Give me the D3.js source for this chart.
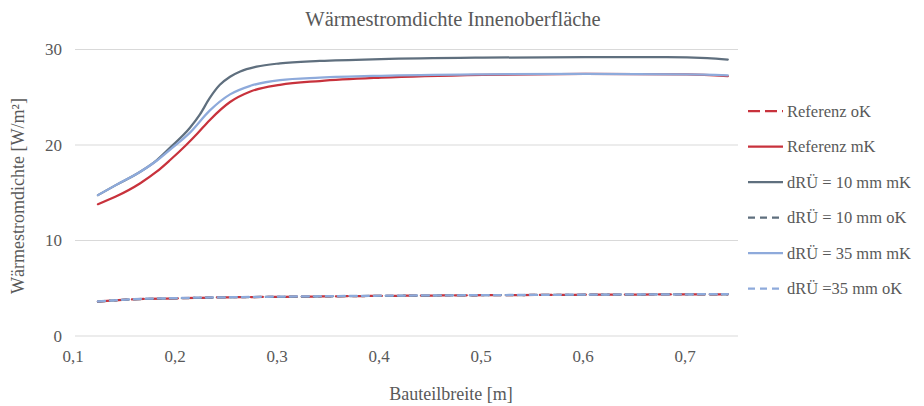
<!DOCTYPE html>
<html>
<head>
<meta charset="utf-8">
<script src="https://cdn.jsdelivr.net/npm/d3@7"></script>
<style>
  html, body { margin: 0; padding: 0; background: #fff; }
  svg { display: block; }
  svg text { font-family: "Liberation Serif", "DejaVu Serif", serif; }
</style>
</head>
<body>
<svg id="chart" width="924" height="406"></svg>
<script>
// Wärmestromdichte an der Innenoberfläche über die Bauteilbreite
const xTicks = [0.1, 0.2, 0.3, 0.4, 0.5, 0.6, 0.7];
const yTicks = [0, 10, 20, 30];

// Referenz mit Kleber (mK)
const refMK = [
  [0.1225, 13.8], [0.14, 14.6], [0.164, 16.0], [0.18, 17.2], [0.193, 18.4],
  [0.209, 20.0], [0.22, 21.2], [0.232, 22.6], [0.252, 24.5], [0.272, 25.6],
  [0.301, 26.3], [0.34, 26.7], [0.4, 27.05], [0.5, 27.35], [0.6, 27.45],
  [0.7, 27.4], [0.74, 27.2]
];
// dRÜ = 10 mm mit Kleber
const d10MK = [
  [0.1225, 14.75], [0.14, 15.8], [0.164, 17.2], [0.18, 18.4], [0.193, 19.7],
  [0.2127, 21.8], [0.2225, 23.2], [0.232, 24.9], [0.242, 26.3], [0.252, 27.15],
  [0.262, 27.7], [0.278, 28.2], [0.301, 28.55], [0.34, 28.8], [0.4, 29.0],
  [0.5, 29.15], [0.6, 29.2], [0.68, 29.2], [0.72, 29.1], [0.74, 28.95]
];
// dRÜ = 35 mm mit Kleber
const d35MK = [
  [0.1225, 14.75], [0.14, 15.8], [0.164, 17.2], [0.18, 18.35], [0.193, 19.5],
  [0.2127, 21.3], [0.232, 23.6], [0.252, 25.3], [0.272, 26.2], [0.301, 26.8],
  [0.34, 27.05], [0.4, 27.25], [0.5, 27.4], [0.6, 27.45], [0.7, 27.4],
  [0.74, 27.3]
];
// ohne Kleber (oK)
const refOK = [
  [0.1225, 3.6], [0.15, 3.8], [0.2, 3.95], [0.25, 4.05], [0.3, 4.1],
  [0.4, 4.2], [0.5, 4.27], [0.6, 4.32], [0.7, 4.36], [0.74, 4.37]
];
const d10OK = [
  [0.1225, 3.6], [0.15, 3.8], [0.2, 3.95], [0.25, 4.05], [0.3, 4.1],
  [0.4, 4.2], [0.5, 4.27], [0.6, 4.32], [0.7, 4.36], [0.74, 4.37]
];
const d35OK = [
  [0.1225, 3.62], [0.15, 3.82], [0.2, 3.97], [0.25, 4.06], [0.3, 4.12],
  [0.4, 4.22], [0.5, 4.28], [0.6, 4.33], [0.7, 4.37], [0.74, 4.38]
];

const seriesNames = [
  "Referenz oK", "Referenz mK", "dRÜ = 10 mm mK",
  "dRÜ = 10 mm oK", "dRÜ = 35 mm mK", "dRÜ =35 mm oK"
];
const seriesData = [refOK, refMK, d10MK, d10OK, d35MK, d35OK];
const seriesColor = ["#c8323c", "#c8323c", "#5f6f7e", "#5f6f7e", "#8eaadb", "#8eaadb"];
const seriesDash = ["12,5", null, null, "7,5", null, "7,5"];

const svg = d3.select("#chart");
const textColor = "#595959";

const x = d3.scaleLinear().domain([0.1, 0.75]).range([75, 738]);
const y = d3.scaleLinear().domain([0, 30]).range([336, 49.5]);
const fmt = d => d3.format(".1f")(d).replace(".", ",");

// Horizontal gridlines
svg.append("g").selectAll("line").data(yTicks).join("line")
  .attr("x1", x.range()[0]).attr("x2", x.range()[1])
  .attr("y1", d => y(d)).attr("y2", d => y(d))
  .attr("stroke", "#d9d9d9").attr("stroke-width", 1.2);

// Y tick labels
svg.append("g").selectAll("text").data(yTicks).join("text")
  .attr("x", 62).attr("y", d => y(d)).attr("dy", "0.35em")
  .attr("text-anchor", "end").attr("fill", textColor)
  .style("font-size", "17px").text(d => d);

// X tick labels
svg.append("g").selectAll("text").data(xTicks).join("text")
  .attr("x", d => x(d) - 2).attr("y", 362)
  .attr("text-anchor", "middle").attr("fill", textColor)
  .style("font-size", "17px").text(fmt);

// Titles
svg.append("text").attr("x", 453).attr("y", 26).attr("text-anchor", "middle")
  .attr("fill", textColor).style("font-size", "20.5px")
  .text("Wärmestromdichte  Innenoberfläche");
svg.append("text").attr("x", 451).attr("y", 400).attr("text-anchor", "middle")
  .attr("fill", textColor).style("font-size", "18px")
  .text("Bauteilbreite [m]");
svg.append("text")
  .attr("transform", "translate(24,196) rotate(-90)")
  .attr("text-anchor", "middle").attr("fill", textColor)
  .style("font-size", "18px").text("Wärmestromdichte  [W/m²]");

// Curves
const line = d3.line().x(d => x(d[0])).y(d => y(d[1])).curve(d3.curveMonotoneX);
const plot = svg.append("g");
seriesData.forEach((data, i) => {
  plot.append("path").datum(data)
    .attr("d", line)
    .attr("fill", "none")
    .attr("stroke", seriesColor[i])
    .attr("stroke-width", 2.25)
    .attr("stroke-dasharray", seriesDash[i])
    .attr("stroke-linecap", "round");
});

// Legend
const legend = svg.append("g");
seriesNames.forEach((name, i) => {
  const ly = 111 + i * 35.5;
  legend.append("line")
    .attr("x1", 748).attr("x2", 783).attr("y1", ly).attr("y2", ly)
    .attr("stroke", seriesColor[i]).attr("stroke-width", 2.25)
    .attr("stroke-dasharray", seriesDash[i]);
  legend.append("text")
    .attr("x", 787).attr("y", ly).attr("dy", "0.35em")
    .attr("fill", textColor).style("font-size", "16.5px")
    .text(name);
});
</script>
</body>
</html>
